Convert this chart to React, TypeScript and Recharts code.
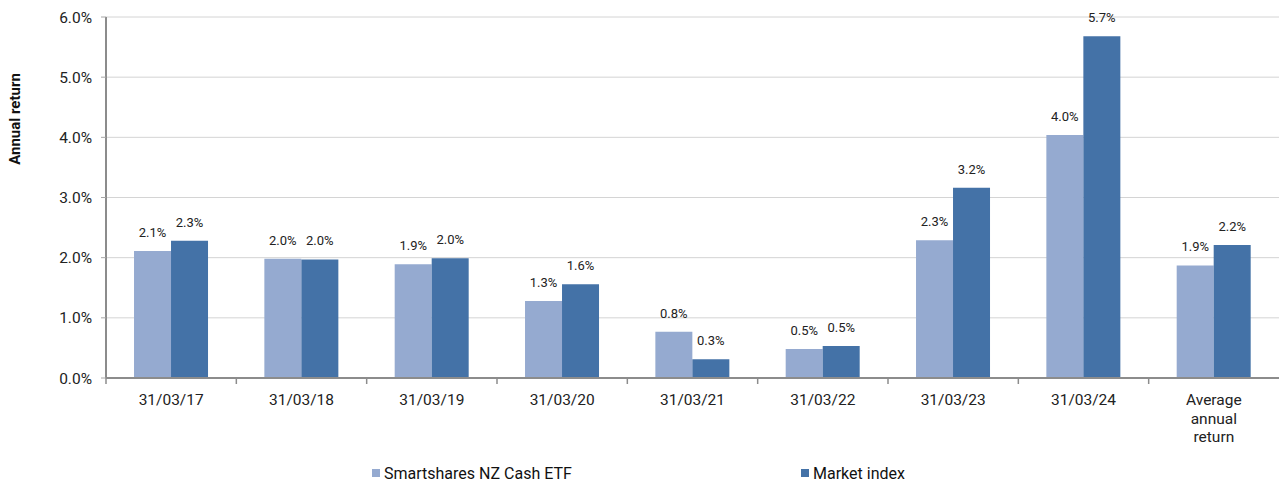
import React from 'react';
import { BarChart, Bar, XAxis, YAxis, CartesianGrid, LabelList, Legend, Label } from 'recharts';

const categories = ['31/03/17', '31/03/18', '31/03/19', '31/03/20', '31/03/21', '31/03/22', '31/03/23', '31/03/24', 'Average annual return'];
const etfValues = [2.11, 1.98, 1.89, 1.28, 0.77, 0.48, 2.29, 4.04, 1.87];
const indexValues = [2.28, 1.97, 1.99, 1.56, 0.31, 0.53, 3.16, 5.68, 2.21];
const yTicks = [0, 1, 2, 3, 4, 5, 6];
const seriesNames = ['Smartshares NZ Cash ETF', 'Market index'];
const colors = ['#95AAD0', '#4472A7'];

const data = categories.map((c, i) => ({ category: c, etf: etfValues[i], index: indexValues[i] }));

const W = 1279;
const H = 485;
const Y_AXIS_W = 106;
const BAND = (W - Y_AXIS_W) / categories.length;

const fmt = (v: any) => `${Number(v).toFixed(1)}%`;

const XTick = (props: any) => {
  const { x, y, payload } = props;
  const lines = String(payload.value).split(' ');
  return (
    <g>
      <line x1={x - BAND / 2} x2={x - BAND / 2} y1={y} y2={y + 6} stroke="#8c8c8c" strokeWidth={1.5} />
      <text x={x} y={y} textAnchor="middle" fontSize={15.5} fill="#222" fontFamily="Roboto">
        {lines.map((l, i) => (
          <tspan key={i} x={x} dy={i === 0 ? 27 : 18.5}>{l}</tspan>
        ))}
      </text>
    </g>
  );
};

const LegendContent = () => {
  const xs = [372, 801];
  return (
    <div style={{ position: 'relative', width: W, height: 20 }}>
      {seriesNames.map((n, i) => (
        <div key={n} style={{ position: 'absolute', left: xs[i], top: 0, height: 20, display: 'flex', alignItems: 'center', fontFamily: 'Roboto', fontSize: 16, color: '#111' }}>
          <span style={{ display: 'inline-block', width: 8, height: 8, background: colors[i], marginRight: 4 }} />
          <span>{n}</span>
        </div>
      ))}
    </div>
  );
};

const YTitle = () => (
  <text x={15} y={119} transform="rotate(-90 15 119)" textAnchor="middle" dominantBaseline="central" fontSize={15} fontWeight="bold" fill="#111" fontFamily="Roboto">
    Annual return
  </text>
);

export default function App() {
  return (
    <div style={{ position: 'absolute', left: 0, top: 0, width: W, height: H, background: '#fff', fontFamily: 'Roboto' }}>
      <BarChart width={W} height={H} data={data} margin={{ top: 17, right: 0, left: 0, bottom: 2 }} barCategoryGap="21.5%" barGap={0}>
        <CartesianGrid vertical={false} stroke="#d4d4d4" strokeWidth={1} />
        <XAxis dataKey="category" height={85} tickSize={0} tickMargin={0} tickLine={false} axisLine={{ stroke: '#8c8c8c', strokeWidth: 2 }} tick={<XTick />} interval={0} />
        <YAxis width={Y_AXIS_W} domain={[0, 6]} ticks={yTicks} tickFormatter={fmt} tickSize={5} tickMargin={9} axisLine={{ stroke: '#8c8c8c', strokeWidth: 2 }} tickLine={{ stroke: '#a6a6a6' }} tick={{ fontSize: 15.5, fill: '#222', fontFamily: 'Roboto' }} allowDataOverflow>
          <Label content={<YTitle />} />
        </YAxis>
        <Legend verticalAlign="bottom" content={<LegendContent />} wrapperStyle={{ height: 20 }} />
        <Bar dataKey="etf" name={seriesNames[0]} fill={colors[0]} isAnimationActive={false}>
          <LabelList dataKey="etf" position="top" offset={14} formatter={fmt} style={{ fontSize: 13, fill: '#222', fontFamily: 'Roboto' }} />
        </Bar>
        <Bar dataKey="index" name={seriesNames[1]} fill={colors[1]} isAnimationActive={false}>
          <LabelList dataKey="index" position="top" offset={14} formatter={fmt} style={{ fontSize: 13, fill: '#222', fontFamily: 'Roboto' }} />
        </Bar>
      </BarChart>
    </div>
  );
}
